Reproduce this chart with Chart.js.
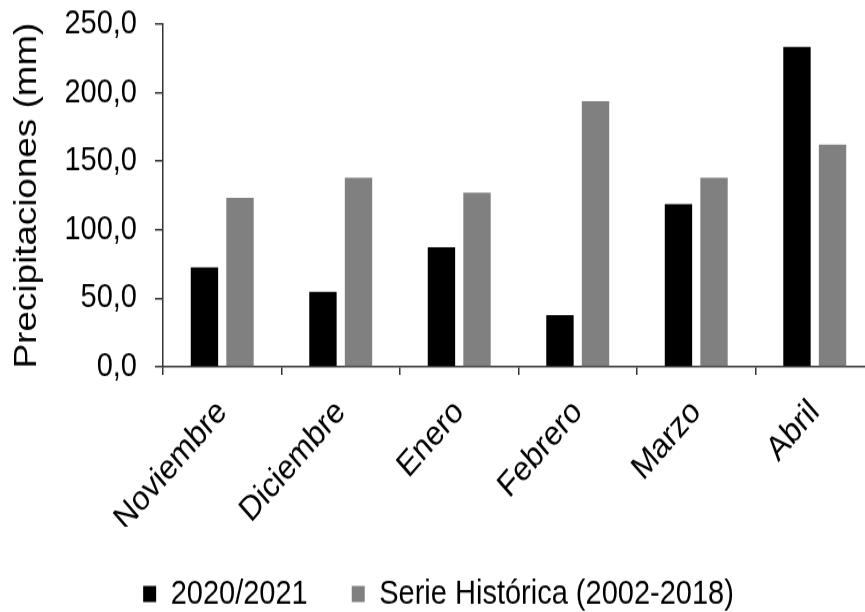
<!DOCTYPE html>
<html>
<head>
<meta charset="utf-8">
<script src="https://cdn.jsdelivr.net/npm/chart.js@4"></script>
<style>
  html { overflow: hidden; }
  html, body { margin: 0; padding: 0; background: #fff; height: 612px; }
  /* the source picture is a little taller than natural, so stretch vertically */
  #rain { display: block; transform: scaleY(1.15); transform-origin: 0 0; }
</style>
</head>
<body>
<canvas id="rain" width="880" height="532"></canvas>
<script>
const months = ["Noviembre", "Diciembre", "Enero", "Febrero", "Marzo", "Abril"];
const season2021 = [72.6, 54.8, 87.2, 37.7, 118.8, 233.4];
const historic = [123.4, 138.0, 127.0, 193.8, 138.0, 162.1];
const yTickLabels = ["0,0", "50,0", "100,0", "150,0", "200,0", "250,0"];

const fontFamily = "'Liberation Sans', Arial, sans-serif";

new Chart(document.getElementById("rain"), {
    type: "bar",
    data: {
        labels: months,
        datasets: [
            {
                label: "2020/2021",
                data: season2021,
                backgroundColor: "#000000",
                categoryPercentage: 0.6,
                barPercentage: 0.77,
            },
            {
                label: "Serie Histórica (2002-2018)",
                data: historic,
                backgroundColor: "#808080",
                categoryPercentage: 0.6,
                barPercentage: 0.77,
            }
        ]
    },
    options: {
        responsive: false,
        animation: false,
        layout: {
            padding: { top: 21, left: 3, right: 6, bottom: -9 }
        },
        plugins: {
            tooltip: { enabled: false },
            legend: {
                position: "bottom",
                labels: {
                    color: "#000",
                    font: { family: fontFamily, size: 29 },
                    boxWidth: 13,
                    boxHeight: 14,
                    padding: 44,
                }
            }
        },
        scales: {
            x: {
                border: { color: "#333", width: 1.5 },
                grid: {
                    offset: true,
                    drawOnChartArea: false,
                    tickLength: 7,
                    color: "#333",
                    lineWidth: 1.5,
                },
                ticks: {
                    color: "#000",
                    font: { family: fontFamily, size: 30 },
                    minRotation: 45,
                    maxRotation: 45,
                    padding: 15,
                },
                // labels hang into the legend's top padding, like the original
                afterFit: (scale) => { scale.height = 139; },
            },
            y: {
                min: 0,
                max: 250,
                border: { color: "#333", width: 1.5 },
                grid: {
                    drawOnChartArea: false,
                    tickLength: 8,
                    color: "#333",
                    lineWidth: 1.5,
                },
                ticks: {
                    stepSize: 50,
                    color: "#000",
                    padding: 18,
                    font: { family: fontFamily, size: 29 },
                    callback: (value, i) => yTickLabels[i],
                },
                title: {
                    display: true,
                    text: "Precipitaciones (mm)",
                    color: "#000",
                    font: { family: fontFamily, size: 32 },
                    padding: { top: 5, bottom: 0 },
                },
                // tick padding would otherwise push the plot down from the top
                afterFit: (scale) => { scale.paddingTop = 0; scale.paddingBottom = 0; },
            }
        }
    }
});
</script>
</body>
</html>
